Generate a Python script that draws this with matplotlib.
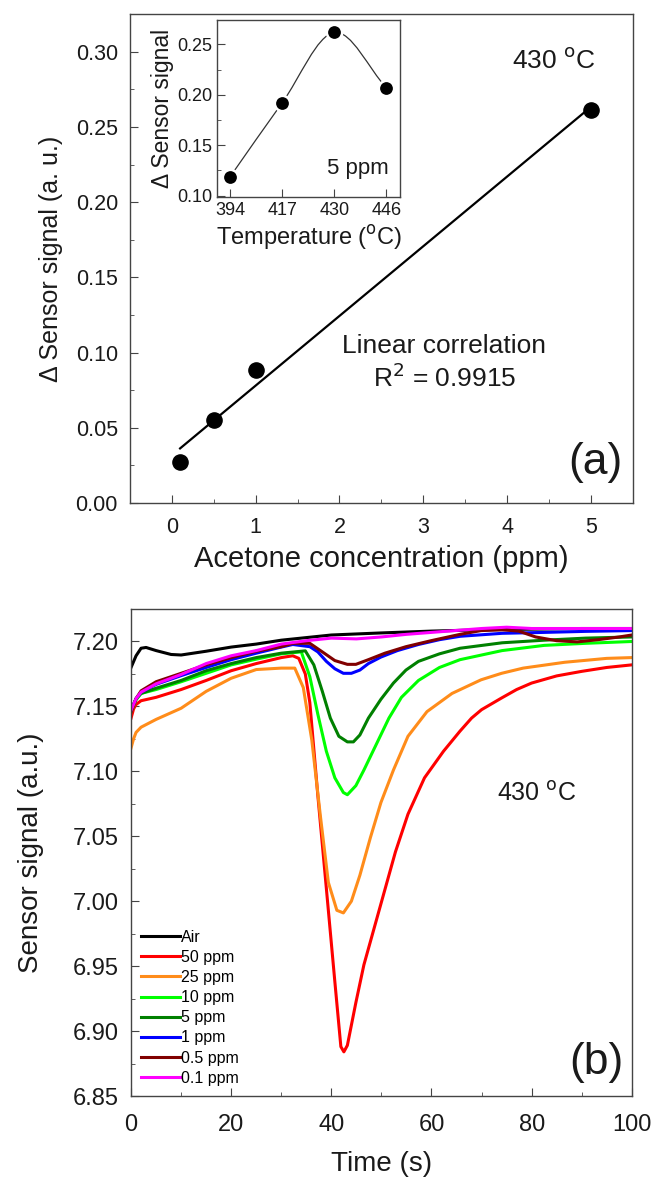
import numpy as np
import matplotlib
matplotlib.use("Agg")
import matplotlib.pyplot as plt
from matplotlib.path import Path
from matplotlib.patches import PathPatch
from matplotlib.ticker import MultipleLocator

plt.rcParams['font.family'] = ['Liberation Sans', 'DejaVu Sans']

# ---- panel (a): response vs concentration ----
conc = [0.1, 0.5, 1.0, 5.0]
delta_signal = [0.0275, 0.055, 0.0886, 0.2615]

# inset: response vs temperature at 5 ppm
temp_labels = ['394', '417', '430', '446']
temp_signal = [0.1188, 0.192, 0.2617, 0.207]

# ---- panel (b): transient signals ----
air_t = [0, 1, 2, 3, 5, 8, 10, 15, 20, 25, 30, 35, 40, 50, 60, 70, 80, 90, 100]
air_y = [7.180, 7.189, 7.1948, 7.1954, 7.193, 7.190, 7.1896, 7.1925, 7.1957, 7.198,
         7.201, 7.203, 7.205, 7.2066, 7.208, 7.209, 7.2095, 7.210, 7.210]

p50_t = [0, 0.5, 1, 2, 5, 10, 15, 20, 25, 30, 32.3, 33.5, 34.8, 35.7, 37.3, 39, 40.7,
         41.9, 42.5, 43.2, 44.9, 46.5, 48.6, 50.7, 52.8, 55.3, 58.6, 62.4, 65.7, 68,
         70, 72, 74, 77, 80, 85, 90, 95, 100]
p50_y = [7.141, 7.148, 7.1515, 7.1544, 7.157, 7.163, 7.170, 7.1775, 7.183, 7.1876, 7.189,
         7.187, 7.175, 7.153, 7.0815, 7.010, 6.938, 6.888, 6.884, 6.889, 6.922, 6.951,
         6.980, 7.009, 7.038, 7.067, 7.095, 7.1155, 7.131, 7.141, 7.1475, 7.152, 7.1565,
         7.163, 7.168, 7.1735, 7.177, 7.180, 7.182]

p25_t = [0, 0.5, 1, 2, 5, 10, 15, 20, 25, 30, 32.7, 34.4, 36.1, 37.8, 39.4, 41.1, 42.4,
         44, 45.7, 47.8, 49.9, 52.4, 55.3, 59.1, 64.1, 69.9, 74, 78.3, 86.6, 95, 100]
p25_y = [7.118, 7.125, 7.130, 7.134, 7.140, 7.1486, 7.1616, 7.1717, 7.1784, 7.1795,
         7.1795, 7.1645, 7.124, 7.066, 7.0145, 6.993, 6.991, 7.000, 7.020, 7.049, 7.076,
         7.101, 7.127, 7.146, 7.160, 7.1705, 7.1755, 7.1795, 7.184, 7.187, 7.1876]

p10_t = [0, 1, 2, 5, 10, 15, 20, 25, 30, 34, 35.7, 37.3, 39, 40.7, 42.4, 43.2, 44.9,
         46.5, 49, 51.5, 54, 57.4, 61.6, 65.7, 74.1, 82.5, 90.8, 100]
p10_y = [7.146, 7.155, 7.160, 7.163, 7.169, 7.1755, 7.182, 7.1864, 7.1905, 7.192, 7.173,
         7.144, 7.1155, 7.095, 7.0837, 7.082, 7.089, 7.101, 7.121, 7.141, 7.157, 7.170,
         7.180, 7.186, 7.193, 7.197, 7.1986, 7.200]

p5_t = [0, 1, 2, 5, 10, 15, 20, 25, 30, 34.8, 36.5, 38.2, 39.8, 41.5, 43.2, 44.4, 45.7,
        47.4, 49.9, 52.4, 54.9, 57.4, 61.6, 65.7, 74.1, 82.5, 90.8, 100]
p5_y = [7.147, 7.156, 7.160, 7.164, 7.170, 7.1775, 7.183, 7.1876, 7.191, 7.1928, 7.182,
        7.1616, 7.141, 7.127, 7.1227, 7.1227, 7.128, 7.141, 7.1555, 7.168, 7.178, 7.1847,
        7.1905, 7.1948, 7.199, 7.201, 7.2026, 7.2035]

p1_t = [0, 1, 2, 5, 10, 15, 20, 25, 30, 32.3, 35.7, 37.3, 39, 40.7, 42.4, 44, 45.7, 47.4,
        49.9, 53.2, 57.4, 61.6, 65.7, 74.1, 82.5, 90.8, 100]
p1_y = [7.147, 7.156, 7.161, 7.167, 7.1737, 7.180, 7.186, 7.191, 7.1957, 7.1977, 7.196,
        7.192, 7.1847, 7.179, 7.1755, 7.1755, 7.178, 7.183, 7.188, 7.193, 7.1977, 7.2014,
        7.204, 7.2063, 7.207, 7.2078, 7.2084]

p05_t = [0, 1, 2, 5, 10, 15, 20, 25, 30, 32.3, 35.7, 38.2, 40.7, 43.2, 44.9, 47.4, 50.7,
         54.9, 59.9, 65.7, 69.9, 74.1, 77.4, 80.8, 85, 89.1, 93.3, 97.5, 100]
p05_y = [7.1458, 7.156, 7.162, 7.169, 7.1755, 7.182, 7.1876, 7.1925, 7.196, 7.1986,
         7.1986, 7.192, 7.1853, 7.1824, 7.1824, 7.186, 7.191, 7.196, 7.2006, 7.2055,
         7.2084, 7.209, 7.208, 7.2035, 7.2006, 7.1997, 7.2014, 7.2035, 7.205]

p01_t = [0, 1, 2, 5, 10, 15, 20, 25, 30, 35, 40, 45, 50, 55, 60, 70, 75, 80, 90, 100]
p01_y = [7.147, 7.156, 7.161, 7.1674, 7.1746, 7.183, 7.189, 7.193, 7.198, 7.2006, 7.2026,
         7.202, 7.2035, 7.2055, 7.207, 7.210, 7.211, 7.210, 7.210, 7.210]

series = [
    ('Air', air_t, air_y, '#000000'),
    ('50 ppm', p50_t, p50_y, '#ff0000'),
    ('25 ppm', p25_t, p25_y, '#ff8c1a'),
    ('10 ppm', p10_t, p10_y, '#00ff00'),
    ('5 ppm', p5_t, p5_y, '#008000'),
    ('1 ppm', p1_t, p1_y, '#0000ff'),
    ('0.5 ppm', p05_t, p05_y, '#800000'),
    ('0.1 ppm', p01_t, p01_y, '#ff00ff'),
]

fig = plt.figure(figsize=(6.52, 11.78), dpi=100)
txt = '#1a1a1a'


def style(ax, size, xpad, ypad):
    for s in ax.spines.values():
        s.set_color('#444444')
        s.set_linewidth(1.0)
    ax.tick_params(which='both', direction='in', top=False, right=False,
                   labelsize=size, colors='#444444', labelcolor=txt)
    ax.tick_params(which='major', length=6)
    ax.tick_params(which='minor', length=3)
    ax.tick_params(axis='x', which='major', pad=xpad)
    ax.tick_params(axis='y', which='major', pad=ypad)


# ---------- (a) ----------
ax1 = fig.add_axes([0.199, 0.573, 0.772, 0.415])
ax1.scatter(conc, delta_signal, s=120, color='black', zorder=3)
k, b = np.polyfit(conc, delta_signal, 1)
xs = np.array([conc[0], conc[-1]])
ax1.plot(xs, k * xs + b, color='black', lw=1.6)
ax1.set_xlim(-0.5, 5.5)
ax1.set_ylim(0, 0.325)
ax1.xaxis.set_major_locator(MultipleLocator(1))
ax1.xaxis.set_minor_locator(MultipleLocator(0.5))
ax1.yaxis.set_major_locator(MultipleLocator(0.05))
ax1.yaxis.set_minor_locator(MultipleLocator(0.025))
ax1.yaxis.set_major_formatter(lambda v, p: f'{v:.2f}')
style(ax1, 15.5, 10, 8.5)
ax1.set_xlabel('Acetone concentration (ppm)', fontsize=21, color=txt, labelpad=5)
ax1.set_ylabel('\u0394 Sensor signal (a. u.)', fontsize=18, color=txt, labelpad=9)
ax1.text(4.55, 0.294, '430 $^{\\rm o}$C', fontsize=19, ha='center', va='center', color=txt)
ax1.text(3.25, 0.1045, 'Linear correlation', fontsize=19, ha='center', va='center', color=txt)
ax1.text(3.25, 0.083, 'R$^2$ = 0.9915', fontsize=19, ha='center', va='center', color=txt)
ax1.text(5.05, 0.027, '(a)', fontsize=32, ha='center', va='center', color=txt)

# inset
ax2 = fig.add_axes([0.333, 0.833, 0.281, 0.150])
xi = np.arange(len(temp_labels))
# smooth curve through the points (Catmull-Rom as cubic Bezier)
pts = np.column_stack([xi, temp_signal]).astype(float)
ext = np.vstack([2 * pts[0] - pts[1], pts, 2 * pts[-1] - pts[-2]])
verts = [tuple(pts[0])]
codes = [Path.MOVETO]
for i in range(1, len(ext) - 2):
    p0, p1, p2, p3 = ext[i - 1], ext[i], ext[i + 1], ext[i + 2]
    verts += [tuple(p1 + (p2 - p0) / 6), tuple(p2 - (p3 - p1) / 6), tuple(p2)]
    codes += [Path.CURVE4] * 3
ax2.add_patch(PathPatch(Path(verts, codes), fill=False, color='#333333', lw=0.9))
ax2.plot(xi, temp_signal, 'o', color='black', ms=11, mec='white', mew=1.8, zorder=3)
ax2.set_xlim(-0.25, 3.27)
ax2.set_ylim(0.099, 0.274)
ax2.set_xticks(xi, temp_labels)
ax2.yaxis.set_major_locator(MultipleLocator(0.05))
ax2.yaxis.set_minor_locator(MultipleLocator(0.025))
ax2.yaxis.set_major_formatter(lambda v, p: f'{v:.2f}')
style(ax2, 13, 3.5, 3.5)
ax2.set_xlabel('Temperature ($^{\\rm o}$C)', fontsize=17, color=txt, labelpad=3)
ax2.set_ylabel('\u0394 Sensor signal', fontsize=16.5, color=txt, labelpad=2)
ax2.text(2.45, 0.127, '5 ppm', fontsize=16, ha='center', va='center', color=txt)

# ---------- (b) ----------
ax3 = fig.add_axes([0.201, 0.0696, 0.768, 0.4134])
for name, t, y, c in series:
    ax3.plot(t, y, color=c, lw=2.2, label=name)
ax3.set_xlim(0, 100)
ax3.set_ylim(6.85, 7.225)
ax3.xaxis.set_major_locator(MultipleLocator(20))
ax3.xaxis.set_minor_locator(MultipleLocator(10))
ax3.yaxis.set_major_locator(MultipleLocator(0.05))
ax3.yaxis.set_minor_locator(MultipleLocator(0.025))
ax3.yaxis.set_major_formatter(lambda v, p: f'{v:.2f}')
style(ax3, 17, 13, 8.5)
ax3.set_xlabel('Time (s)', fontsize=20, color=txt, labelpad=11)
ax3.set_ylabel('Sensor signal (a.u.)', fontsize=20, color=txt, labelpad=21)
ax3.text(81, 7.083, '430 $^{\\rm o}$C', fontsize=18, ha='center', va='center', color=txt)
ax3.text(93, 6.876, '(b)', fontsize=32, ha='center', va='center', color=txt)
ax3.legend(loc='lower left', bbox_to_anchor=(0.0, 0.0), frameon=False, fontsize=11.5,
           handlelength=2.4, handletextpad=0.1, labelspacing=0.32, borderaxespad=0.25)

fig.savefig('out.png', dpi=100)
